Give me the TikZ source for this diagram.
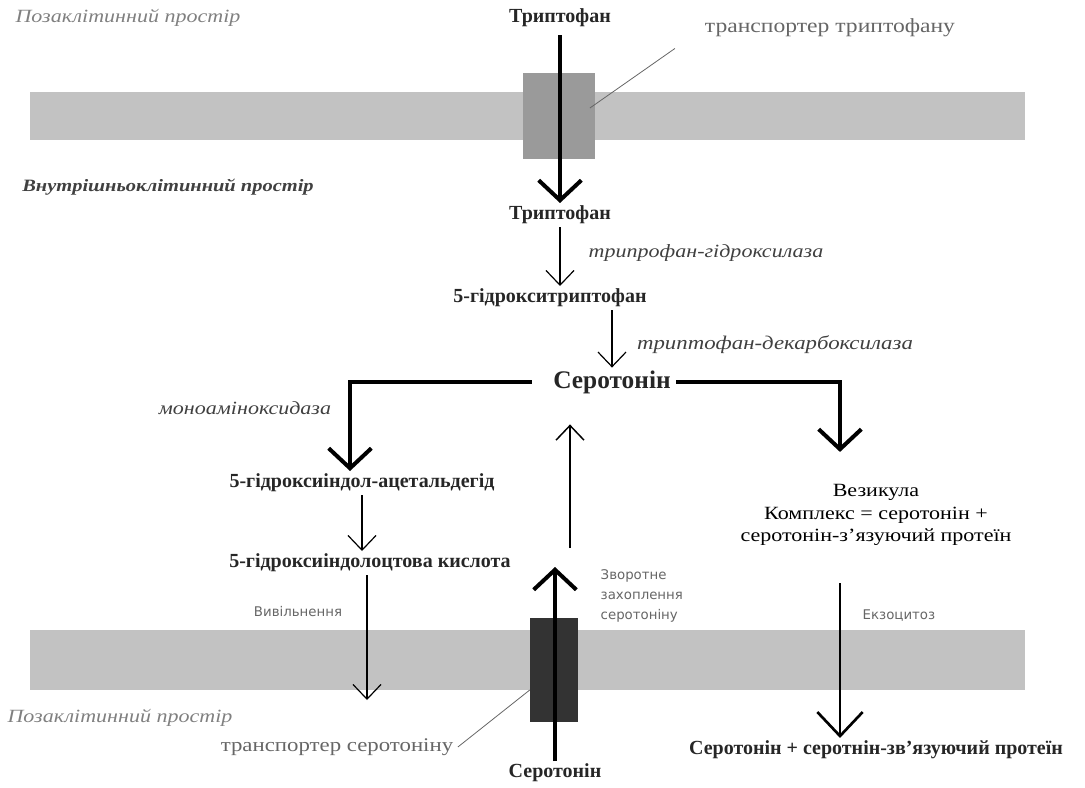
\documentclass[tikz,border=0pt]{standalone}
\usepackage{fontspec}
\setmainfont{Liberation Serif}
\newfontfamily\widefont[FakeStretch=1.18]{Liberation Serif}
\newfontfamily\smallsans{DejaVu Sans}
\usetikzlibrary{arrows.meta}
\definecolor{membr}{HTML}{C2C2C2}
\definecolor{trpgray}{HTML}{9A9A9A}
\definecolor{sertgray}{HTML}{333333}
\tikzstyle{substance}=[font=\fontsize{15}{17}\selectfont\bfseries, inner sep=2pt, text=black!85]
\tikzstyle{enzyme}=[font=\widefont\fontsize{14}{16}\selectfont\itshape, text=black!75]
\tikzstyle{space}=[font=\widefont\fontsize{14}{16}\selectfont\itshape, text=gray]
\tikzstyle{tlabel}=[font=\widefont\fontsize{15}{17}\selectfont, text=black!60]
\tikzstyle{note}=[font=\smallsans\fontsize{10}{15}\selectfont, text=black!60, align=left]
\tikzstyle{trpbox}=[rectangle, minimum width=54pt, minimum height=65pt, inner sep=0, fill=trpgray]
\tikzstyle{sertbox}=[rectangle, minimum width=36pt, minimum height=78pt, inner sep=0, fill=sertgray]
\tikzstyle{bigarrow}=[line width=3pt,-{Straight Barb[length=15pt,width=32pt]}]
\tikzstyle{midarrow}=[line width=2pt,-{Straight Barb[length=18pt,width=34pt]}]
\tikzstyle{thinarrow}=[line width=0.9pt,-{Straight Barb[length=11pt,width=21pt]}]
\tikzstyle{leader}=[black!60, line width=0.6pt]

\begin{document}
\begin{tikzpicture}[x=0.75pt,y=-0.75pt]
\useasboundingbox (0,0) rectangle (1085,788);
% membranes
\fill[membr] (30,92) rectangle (1025,140);
\fill[membr] (30,630) rectangle (1025,690);
\node[trpbox] (trp) at (559,116) {};
\node[sertbox] (sert) at (554,670) {};

\node[space] (outtop) at (128,18) {Позаклітинний простір};
\node[space, text=black!75, font=\widefont\fontsize{13}{15}\selectfont\itshape\bfseries] (inside) at (168,187) {Внутрішньоклітинний простір};
\node[space] (outbot) at (120,718) {Позаклітинний простір};

\node[substance] (trpout) at (560,18) {Триптофан};
\node[tlabel] (trplab) at (830,28) {транспортер триптофану};
\node[substance] (trpin) at (560,215) {Триптофан};
\node[substance] (htp) at (550,298) {5-гідрокситриптофан};
\node[substance, font=\fontsize{19}{22}\selectfont\bfseries] (sero) at (612,382) {Серотонін};
\node[substance] (ald) at (362,483) {5-гідроксиіндол-ацетальдегід};
\node[substance] (acid) at (370,563) {5-гідроксиіндолоцтова кислота};
\node[substance, font=\widefont\fontsize{14}{17}\selectfont, text=black, align=center] (ves) at (876,515) {Везикула\\Комплекс = серотонін +\\серотонін-з’язуючий протеїн};
\node[substance] (final) at (876,750) {Серотонін + серотнін-зв’язуючий протеїн};
\node[substance] (serout) at (555,773) {Серотонін};
\node[tlabel, font=\widefont\fontsize{14.5}{17}\selectfont] (sertlab) at (337,747) {транспортер серотоніну};

\node[enzyme] (tph) at (706,253) {трипрофан-гідроксилаза};
\node[enzyme, font=\widefont\fontsize{14.5}{16}\selectfont\itshape] (aadc) at (775,345) {триптофан-декарбоксилаза};
\node[enzyme] (mao) at (245,408) {моноаміноксидаза};
\node[note] (release) at (298,612) {Вивільнення};
\node[note, anchor=west] (uptake) at (596,596) {Зворотне\\захоплення\\серотоніну};
\node[note, anchor=west] (exo) at (858,616) {Екзоцитоз};

\coordinate (lturn) at (350,382);
\coordinate (rturn) at (840,382);
\coordinate (relout) at (367,700);
\coordinate (upbase) at (570,548);
\coordinate (uptop) at (555,567);

\draw[bigarrow, shorten <=4pt] (trpout) -- (trpin);
\draw[thinarrow] (trpin) -- (trpin |- htp.north);
\draw[thinarrow] (sero |- htp.south) -- (sero);
\draw[bigarrow, shorten <=14pt] (sero.west) -- (lturn) -- (lturn |- ald.north);
\draw[bigarrow, shorten <=2pt, shorten >=22pt] (sero.east) -- (rturn) -- (rturn |- ves.north);
\draw[thinarrow] (ald) -- (ald |- acid.north);
\draw[thinarrow] (acid.south -| relout) -- (relout);
\draw[thinarrow, line width=1.1pt, shorten >=21pt] (upbase) -- (upbase |- sero.south);
\draw[bigarrow] (serout) -- (uptop);
\draw[midarrow, shorten <=26pt] (ves.south -| rturn) -- (rturn |- final.north);

\draw[leader] ([shift={(-4pt,6pt)}]trp.east) -- ([shift={(-19pt,-5pt)}]trplab.south west);
\draw[leader] (sertlab.east) -- ([yshift=-15pt]sert.west);
\end{tikzpicture}
\end{document}
